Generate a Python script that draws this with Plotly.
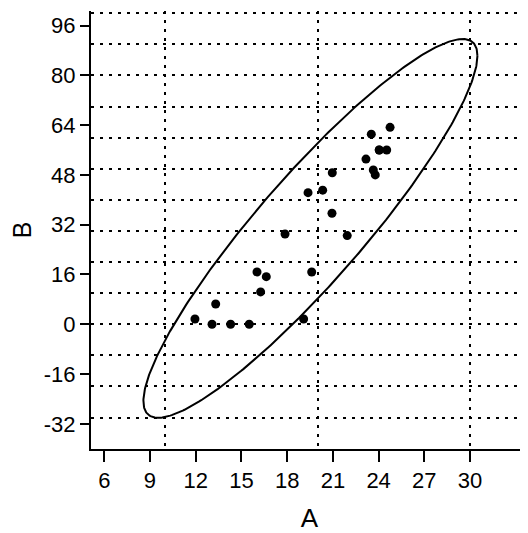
import numpy as np
import plotly.graph_objects as go

# Data (one point at (24.04, 56.0) appears twice, coincident)
A = [11.95, 13.07, 13.31, 14.29, 15.51, 16.02, 16.26, 16.63, 17.86, 19.08, 19.37, 19.61,
     20.33, 20.96, 20.94, 21.94, 23.17, 23.52, 23.65, 23.78, 24.04, 24.04, 24.53, 24.75]
B = [1.7, 0.0, 6.5, 0.0, 0.0, 16.8, 10.4, 15.3, 29.0, 1.7, 42.3, 16.8,
     43.1, 48.7, 35.7, 28.5, 53.1, 61.1, 49.6, 48.0, 56.0, 56.0, 56.0, 63.3]

x_ticks = [6, 9, 12, 15, 18, 21, 24, 27, 30]
y_ticks = [-32, -16, 0, 16, 32, 48, 64, 80, 96]
y_tick_labels = ["-32", "-16", "0", "16", "32", "48", "64", "80", "96"]
x_grid = [10, 20, 30]
y_grid = [-30, -20, -10, 0, 10, 20, 30, 40, 50, 60, 70, 80, 90, 100]
level = 0.95

# 95% data ellipse (F-based) computed from the data
xy = np.array([A, B])
n = xy.shape[1]
mu = xy.mean(axis=1)
cov = np.cov(xy)
d2 = n - 2
fq = (d2 / 2.0) * ((1 - level) ** (-2.0 / d2) - 1)   # F(level; 2, n-2)
c2 = 2.0 * (n - 1) / (n - 2) * fq
L = np.linalg.cholesky(cov)
t = np.linspace(0, 2 * np.pi, 400)
circ = np.vstack([np.cos(t), np.sin(t)])
ell = mu[:, None] + np.sqrt(c2) * (L @ circ)

xr = [5.13, 33.8]
yr = [-40.1, 100.7]
font = "Arial, Liberation Sans, sans-serif"

fig = go.Figure()
fig.add_trace(go.Scatter(x=[None], y=[None], xaxis="x2", yaxis="y2",
                         showlegend=False, hoverinfo="skip"))
fig.add_trace(go.Scatter(x=ell[0], y=ell[1], mode="lines",
                         line=dict(color="black", width=2), showlegend=False))
fig.add_trace(go.Scatter(x=A, y=B, mode="markers",
                         marker=dict(color="black", size=9), showlegend=False))

grid = dict(showgrid=True, gridcolor="black", gridwidth=2, griddash="3px,6px",
            showticklabels=False, ticks="", showline=False, zeroline=False)

fig.update_layout(
    width=520, height=525,
    margin=dict(l=83, r=0, t=3, b=84),
    paper_bgcolor="white", plot_bgcolor="white",
    font=dict(family=font, color="black", size=22),
    xaxis=dict(range=xr, tickmode="array", tickvals=x_ticks, showgrid=False,
               zeroline=False, showline=True, linecolor="black", linewidth=2,
               ticks="outside", ticklen=11, tickwidth=2, tickcolor="black",
               tickfont=dict(size=22), title=dict(text="A", font=dict(size=26), standoff=20)),
    yaxis=dict(range=yr, tickmode="array", tickvals=y_ticks, ticktext=y_tick_labels,
               showgrid=False,
               zeroline=False, showline=True, linecolor="black", linewidth=2,
               ticks="outside", ticklen=9, tickwidth=2, tickcolor="black",
               tickfont=dict(size=22), title=dict(text="B", font=dict(size=25), standoff=6)),
    xaxis2=dict(grid, range=xr, overlaying="x", tickmode="array", tickvals=x_grid),
    yaxis2=dict(grid, range=yr, overlaying="y", tickmode="array", tickvals=y_grid),
)

fig.write_html("out.html")
